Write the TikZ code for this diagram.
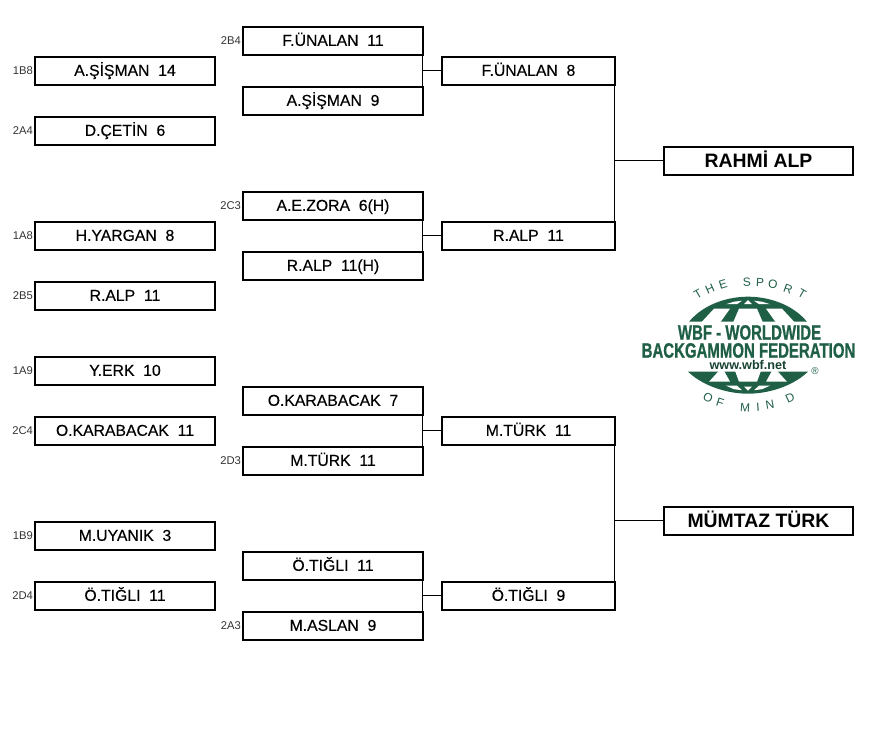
\documentclass[tikz,border=0pt]{standalone}
\usepackage{fontspec}
\setmainfont{Liberation Sans}
\newfontfamily\boxfont[FakeBold=0.3]{Liberation Sans}
\usetikzlibrary{positioning,calc}
\definecolor{wbfgreen}{HTML}{1F5F46}

\begin{document}
\begin{tikzpicture}[
    x=0.025cm, y=-0.025cm,
    match/.style={draw, line width=1.4pt, outer sep=0pt, align=center, minimum width=4.48cm, minimum height=0.7cm, text height=8pt, text depth=0.7pt, font=\boxfont\fontsize{11.2}{13}\selectfont},
    semi/.style={match, minimum width=4.31cm},
    final/.style={match, minimum width=4.74cm, text height=9.9pt, text depth=0pt, font=\bfseries\fontsize{13.8}{15}\selectfont},
    seed/.style={font=\fontsize{8}{9}\selectfont, text=black!80, inner sep=1pt, left=0.5pt},
    link/.style={line width=0.7pt},
    cell/.style={fill=white},
    logo/.style={text=wbfgreen, inner sep=0pt},
    brand/.style={logo, xscale=0.72, text height=10.6pt, text depth=0pt, font=\bfseries\fontsize{14.8}{16}\selectfont\addfontfeature{FakeBold=1}},
    letter/.style={logo, font=\fontsize{8.5}{10}\selectfont},
]
\useasboundingbox (0,0.3) rectangle (882,753.3);

% First column
\node[match] (a1) at (125,71) {A.ŞİŞMAN\ \ 14};
\node[match] (a2) at (125,131) {D.ÇETİN\ \ 6};
\node[match] (a3) at (125,236) {H.YARGAN\ \ 8};
\node[match] (a4) at (125,296) {R.ALP\ \ 11};
\node[match] (a5) at (125,371) {Y.ERK\ \ 10};
\node[match] (a6) at (125,431) {O.KARABACAK\ \ 11};
\node[match] (a7) at (125,536) {M.UYANIK\ \ 3};
\node[match] (a8) at (125,596) {Ö.TIĞLI\ \ 11};

% Seeds of the first column
\node[seed] (s1) at (a1.west) {1B8};
\node[seed] (s2) at (a2.west) {2A4};
\node[seed] (s3) at (a3.west) {1A8};
\node[seed] (s4) at (a4.west) {2B5};
\node[seed] (s5) at (a5.west) {1A9};
\node[seed] (s6) at (a6.west) {2C4};
\node[seed] (s7) at (a7.west) {1B9};
\node[seed] (s8) at (a8.west) {2D4};

% Second column
\node[match] (b1) at (333,41) {F.ÜNALAN\ \ 11};
\node[match] (b2) at (333,101) {A.ŞİŞMAN\ \ 9};
\node[match] (b3) at (333,206) {A.E.ZORA\ \ 6(H)};
\node[match] (b4) at (333,266) {R.ALP\ \ 11(H)};
\node[match] (b5) at (333,401) {O.KARABACAK\ \ 7};
\node[match] (b6) at (333,461) {M.TÜRK\ \ 11};
\node[match] (b7) at (333,566) {Ö.TIĞLI\ \ 11};
\node[match] (b8) at (333,626) {M.ASLAN\ \ 9};

% Seeds of the second column
\node[seed] (t1) at (b1.west) {2B4};
\node[seed] (t3) at (b3.west) {2C3};
\node[seed] (t6) at (b6.west) {2D3};
\node[seed] (t8) at (b8.west) {2A3};

% Third column
\node[semi] (c1) at (528.5,71) {F.ÜNALAN\ \ 8};
\node[semi] (c2) at (528.5,236) {R.ALP\ \ 11};
\node[semi] (c3) at (528.5,431) {M.TÜRK\ \ 11};
\node[semi] (c4) at (528.5,596) {Ö.TIĞLI\ \ 9};

% Finalists
\node[final] (d1) at (758.5,161) {RAHMİ ALP};
\node[final] (d2) at (758.5,521) {MÜMTAZ TÜRK};

% Connectors
\draw[link] (b1.south east) -- (b2.north east);
\draw[link] (b3.south east) -- (b4.north east);
\draw[link] (b5.south east) -- (b6.north east);
\draw[link] (b7.south east) -- (b8.north east);
\draw[link] (c1.west) -- (c1.west -| b1.east);
\draw[link] (c2.west) -- (c2.west -| b3.east);
\draw[link] (c3.west) -- (c3.west -| b5.east);
\draw[link] (c4.west) -- (c4.west -| b7.east);
\draw[link] (c1.south east) -- (c2.north east);
\draw[link] (c3.south east) -- (c4.north east);
\draw[link] (d1.west) -- (d1.west -| c1.east);
\draw[link] (d2.west) -- (d2.west -| c3.east);

% Logo: upper half of the globe
\fill[wbfgreen] (689,322) .. controls (705,303) and (730,297) .. (748,297) .. controls (766,297) and (791,303) .. (807,322) -- cycle;
\fill[cell] (748,300.5) -- (744,304.5) -- (752,304.5) -- cycle;
\fill[cell] (739,309) -- (757,309) -- (763,323) -- (733,323) -- cycle;
\fill[cell] (726,304.5) -- (737,304.5) -- (742,301) -- (734,302) -- cycle;
\fill[cell] (770,304.5) -- (759,304.5) -- (754,301) -- (762,302) -- cycle;
\fill[cell] (714,309) -- (730,309) -- (720,323) -- (701,323) -- cycle;
\fill[cell] (782,309) -- (766,309) -- (776,323) -- (795,323) -- cycle;

% Logo: lower half of the globe
\fill[wbfgreen] (688,372) .. controls (705,388) and (730,394) .. (748,394) .. controls (766,394) and (791,388) .. (808,372) -- cycle;
\fill[cell] (748,391) -- (744,387) -- (752,387) -- cycle;
\fill[cell] (739,382) -- (757,382) -- (761,371) -- (735,371) -- cycle;
\fill[cell] (726,386) -- (737,386) -- (742,390.5) -- (734,389.5) -- cycle;
\fill[cell] (770,386) -- (759,386) -- (754,390.5) -- (762,389.5) -- cycle;
\fill[cell] (709,382) -- (730,382) -- (724,371) -- (719,371) -- cycle;
\fill[cell] (787,382) -- (766,382) -- (772,371) -- (777,371) -- cycle;

% Logo: lettering
\node[brand] (wbf) at (749.5,332.5) {WBF - WORLDWIDE};
\node[brand] (bgf) at (748.5,350.5) {BACKGAMMON FEDERATION};
\node[logo, text=wbfgreen!70!black, text height=6.5pt, text depth=0pt, font=\bfseries\fontsize{9}{10}\selectfont] (web) at (748,365) {www.wbf.net};
\node[logo, font=\fontsize{7}{8}\selectfont] (reg) at (815,371) {®};

% Logo: letters round the globe
\node[letter, rotate=30] (top1) at (698,294) {T};
\node[letter, rotate=24] (top2) at (710,289) {H};
\node[letter, rotate=17] (top3) at (723,285) {E};
\node[letter, rotate=3] (top4) at (747,282) {S};
\node[letter, rotate=-3] (top5) at (760,283) {P};
\node[letter, rotate=-10] (top6) at (773,285) {O};
\node[letter, rotate=-20] (top7) at (788,289) {R};
\node[letter, rotate=-30] (top8) at (802,294) {T};
\node[letter, rotate=-25] (low1) at (708,398) {O};
\node[letter, rotate=-18] (low2) at (720,403) {F};
\node[letter, rotate=-4] (low3) at (745,408) {M};
\node[letter, rotate=4] (low4) at (758,408) {I};
\node[letter, rotate=10] (low5) at (770,405) {N};
\node[letter, rotate=25] (low6) at (790,398) {D};

\end{tikzpicture}
\end{document}
